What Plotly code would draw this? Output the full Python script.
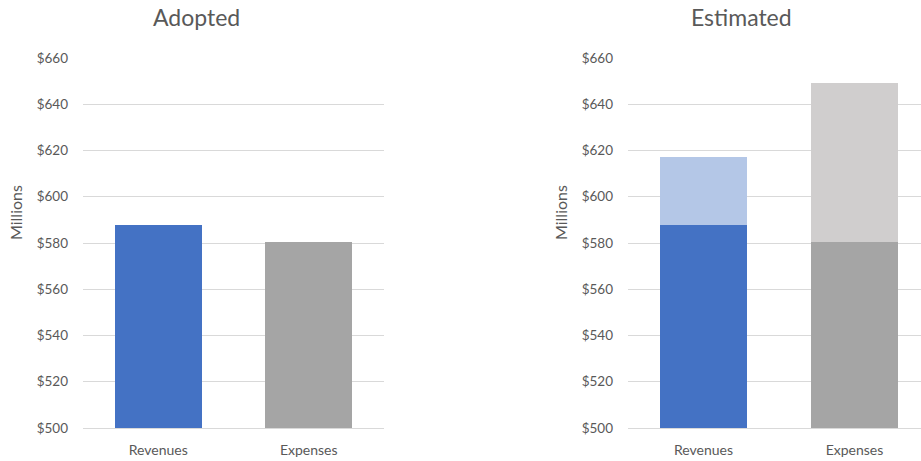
import plotly.graph_objects as go

# Budget figures, in millions of dollars
categories = ["Revenues", "Expenses"]
adopted = [588.0, 580.5]
estimated = [617.0, 649.0]
y_ticks = [500, 520, 540, 560, 580, 600, 620, 640, 660]
y_tick_text = [f"${v}" for v in y_ticks]

base_colors = ["#4472C4", "#A5A5A5"]
light_colors = ["#B4C7E7", "#D0CECE"]

W, H = 921, 461
M_TOP, M_BOT = 58, 33
FONT = "Lato"
TEXT = "#595959"
GRID = "#D9D9D9"

fig = go.Figure()

# Left panel: adopted budget
fig.add_trace(go.Bar(
    x=categories, y=adopted, marker_color=base_colors, marker_line_width=0,
    width=0.58, xaxis="x", yaxis="y", showlegend=False,
))

# Right panel: adopted base with the estimated increase stacked on top
fig.add_trace(go.Bar(
    x=categories, y=adopted, marker_color=base_colors, marker_line_width=0,
    width=0.576, xaxis="x2", yaxis="y2", showlegend=False,
))
fig.add_trace(go.Bar(
    x=categories, y=[e - a for e, a in zip(estimated, adopted)], base=adopted,
    marker_color=light_colors, marker_line_width=0,
    width=0.576, xaxis="x2", yaxis="y2", showlegend=False,
))

def px(x):
    return x / W

yaxis_common = dict(
    range=[500, 660], tickvals=y_ticks, ticktext=y_tick_text,
    showgrid=True, gridcolor=GRID, gridwidth=1, zeroline=False,
    showline=False, ticks="", ticklabelstandoff=14,
    tickfont=dict(family=FONT, size=13.5, color=TEXT),
)
xaxis_common = dict(
    type="category", showgrid=False, zeroline=False,
    showline=True, linecolor=GRID, linewidth=1, ticks="",
    tickfont=dict(family=FONT, size=14, color=TEXT), ticklabelstandoff=9,
)

fig.update_layout(
    width=W, height=H,
    margin=dict(l=0, r=0, t=M_TOP, b=M_BOT),
    paper_bgcolor="white", plot_bgcolor="white",
    barmode="overlay", bargap=0,
    xaxis=dict(domain=[px(83), px(384)], range=[-0.5, 1.5], anchor="y", **xaxis_common),
    yaxis=dict(domain=[0, 1], anchor="x", **yaxis_common),
    xaxis2=dict(domain=[px(628), 1.0], range=[-0.5, -0.5 + 293 / 151], anchor="y2", **xaxis_common),
    yaxis2=dict(domain=[0, 1], anchor="x2", **yaxis_common),
)

def py(y):
    return (H - M_BOT - y) / (H - M_TOP - M_BOT)

annotations = [
    dict(text="Adopted", x=px(196), y=py(17), font=dict(family=FONT, size=23, color=TEXT)),
    dict(text="Estimated", x=px(741), y=py(17), font=dict(family=FONT, size=23, color=TEXT)),
    dict(text="Millions", x=px(15), y=py(213), textangle=-90, font=dict(family=FONT, size=16, color=TEXT)),
    dict(text="Millions", x=px(560), y=py(213), textangle=-90, font=dict(family=FONT, size=16, color=TEXT)),
]
for a in annotations:
    a.update(xref="paper", yref="paper", showarrow=False, xanchor="center", yanchor="middle")
fig.update_layout(annotations=annotations)

fig.write_html("out.html")
